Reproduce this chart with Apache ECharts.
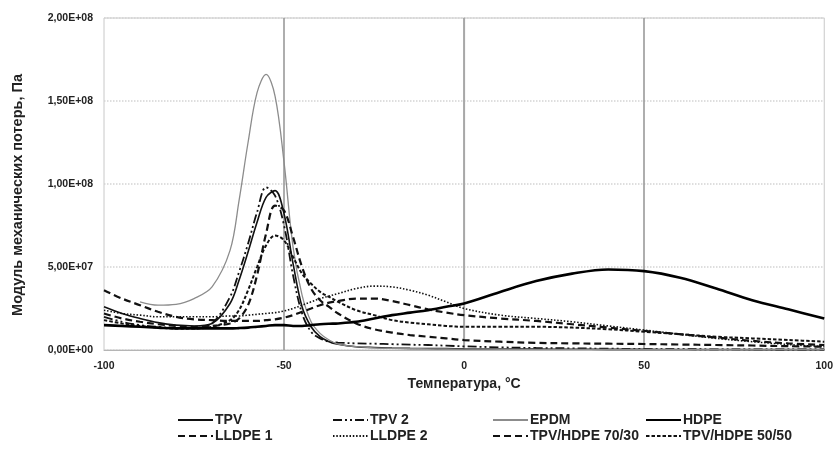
<!DOCTYPE html>
<html>
<head>
<meta charset="utf-8">
<script src="https://cdn.jsdelivr.net/npm/echarts@6/dist/echarts.min.js"></script>
<style>
html,body{margin:0;padding:0;background:#fff;}
#chart{width:836px;height:452px;}
</style>
</head>
<body>
<div id="chart"></div>
<script>
// Temperature, °C
var temps = [-100,-95,-90,-85,-80,-75,-70,-65,-62.5,-60,-57.5,-55,-52.5,-50,-47.5,-45,-42.5,-40,-37.5,-35,-30,-25,-20,-15,-10,-5,0,10,20,30,40,50,60,70,80,90,100];
// Loss modulus values in units of 1E6 Pa
var tpv    = [26,22,19,16.5,15,14.5,16,28,42,59,77,92,96,82,52,26,14,8,5,3.5,2,1.5,1.2,1,0.9,0.8,0.7,0.6,0.5,0.45,0.4,0.35,0.3,0.3,0.25,0.2,0.2];
var tpv2   = [20,17,15,14,13,13,16,32,47,64,83,98,93,75,45,22,11,7,5,4.5,4,3.8,3.5,3.2,3,2.6,2.2,1.6,1.2,1,0.8,0.6,0.5,0.4,0.35,0.3,0.3];
var epdm   = [null,null,29,27,27.5,31,38,60,90,125,155,166,153,113,62,33,17,10,6,3.5,2,1.3,1,0.8,0.7,0.6,0.5,0.45,0.4,0.35,0.3,0.3,0.25,0.25,0.2,0.2,0.2];
var hdpe   = [15,14.5,14,13.5,13,13,13,13,13.2,13.5,14,14.5,15,15,14.5,14.5,15,15.5,15.8,16,17,19,21,22.5,24,26,28,35,41.5,46,48.5,47.5,43.5,37,30,24.5,19];
var lldpe1 = [36,31,27,23,20,18.5,18,17.5,17.5,17.5,17.5,18,18.5,19.5,21,23,25,27,28.5,29.5,31,31,29.5,27,24.5,22.5,21,19,17.5,15.5,13.5,11.5,9.5,7.5,5.5,4,3];
var lldpe2 = [24,22,21,20,20,20,20,20.5,20.5,21,21.5,22,22.5,23.5,25,27,29,31,32.5,34,37,38.5,38,36,33,29,25,21,19,17,14.5,12,9.5,7,5,3.3,2];
var tb7030 = [22,19,17,15.5,14.5,14,14.5,16,19,27,45,70,87,84,68,50,37,30,26,22,16,12.5,10.5,9,8,7,6,5,4.3,4,3.8,3.6,3.3,3,2.7,2.3,2];
var tb5050 = [18,16,14.5,13.5,13,13,14,18,24,36,50,63,69,66,56,46,40,35,32,29,24,21,18,16.5,15.5,14.5,14,14,14,13.5,12.5,11,9.5,8,7,6,5];

var seriesNames = ['TPV','TPV 2','EPDM','HDPE','LLDPE 1','LLDPE 2','TPV/HDPE 70/30','TPV/HDPE 50/50'];
var yTickLabels = ['0,00E+00','5,00E+07','1,00E+08','1,50E+08','2,00E+08'];
var xTickLabels = ['-100','-50','0','50','100'];

function pairs(vals){
  var out = [];
  for (var i = 0; i < temps.length; i++) {
    if (vals[i] !== null) out.push([temps[i], vals[i] * 1e6]);
  }
  return out;
}

var styles = [
  {color:'#111', width:1.6, type:'solid'},
  {color:'#111', width:1.8, type:[9,3,2,3,2,3]},
  {color:'#8c8c8c', width:1.3, type:'solid'},
  {color:'#000', width:2.6, type:'solid'},
  {color:'#111', width:2.2, type:[7,4]},
  {color:'#111', width:1.6, type:[1.5,1.8]},
  {color:'#111', width:2.2, type:[7,4]},
  {color:'#111', width:2.0, type:[3.5,2]}
];
var allVals = [tpv,tpv2,epdm,hdpe,lldpe1,lldpe2,tb7030,tb5050];

var series = allVals.map(function(v, i){
  return {
    name: seriesNames[i],
    type: 'line',
    data: pairs(v),
    smooth: 0.35,
    symbol: 'none',
    lineStyle: {color: styles[i].color, width: styles[i].width, type: styles[i].type},
    itemStyle: {color: styles[i].color},
    z: i === 3 ? 5 : 3
  };
});

var legendPos = [
  [177,413],[332,413],[492,413],[645,413],
  [177,429],[332,429],[492,429],[645,429]
];
var legends = seriesNames.map(function(n, i){
  return {
    data: [n],
    left: legendPos[i][0],
    top: legendPos[i][1],
    orient: 'horizontal',
    itemWidth: 35,
    itemHeight: 14,
    padding: 0,
    selectedMode: false,
    itemStyle: {opacity: 0, borderWidth: 0},
    textStyle: {fontFamily:'Liberation Sans', fontWeight:'bold', fontSize:14, color:'#222', padding:[0,0,0,-3]}
  };
});

var chart = echarts.init(document.getElementById('chart'), null, {renderer:'canvas'});
chart.setOption({
  animation: false,
  backgroundColor: '#fff',
  grid: {left:104, right:6, top:18, bottom:102, show:true, borderColor:'#c8c8c8', borderWidth:1},
  legend: legends,
  xAxis: {
    type: 'value', min: -100, max: 100, interval: 50,
    name: 'Температура, °C', nameLocation: 'middle', nameGap: 27,
    nameTextStyle: {fontFamily:'Liberation Sans', fontWeight:'bold', fontSize:14, color:'#222'},
    axisLine: {show:true, lineStyle:{color:'#b5b5b5', width:1}},
    axisTick: {show:false},
    axisLabel: {fontFamily:'Liberation Sans', fontWeight:'bold', fontSize:10.5, color:'#222', margin:11,
      formatter: function(v, i){ return xTickLabels[i]; }},
    splitLine: {show:true, showMinLine:false, showMaxLine:false, lineStyle:{color:'#9a9a9a', width:1.6, type:'solid'}}
  },
  yAxis: {
    type: 'value', min: 0, max: 2e8, interval: 5e7,
    name: 'Модуль механических потерь, Па', nameLocation: 'middle', nameGap: 79, nameRotate: 90,
    nameTextStyle: {fontFamily:'Liberation Sans', fontWeight:'bold', fontSize:14.5, color:'#222', padding:[0,22,0,0]},
    axisLine: {show:true, lineStyle:{color:'#a8a8a8', width:1.2}},
    axisTick: {show:false},
    axisLabel: {fontFamily:'Liberation Sans', fontWeight:'bold', fontSize:10.5, color:'#222', margin:11,
      formatter: function(v, i){ return yTickLabels[i]; }},
    splitLine: {show:true, lineStyle:{color:'#d4d4d4', width:1.5, type:'dotted'}}
  },
  series: series
});
</script>
</body>
</html>
